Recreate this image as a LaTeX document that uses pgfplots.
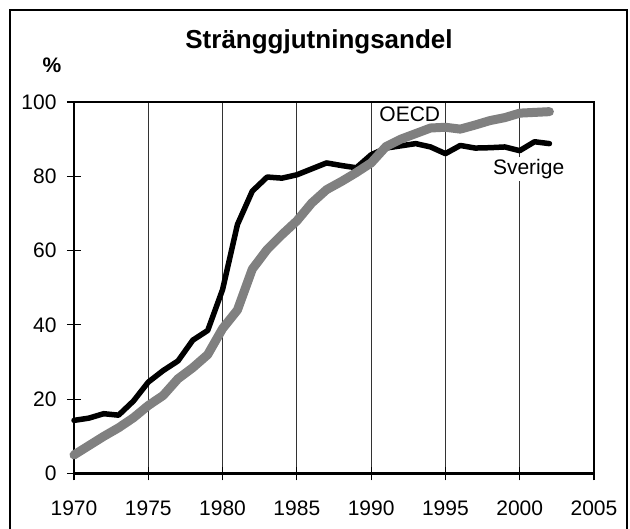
\documentclass[border=0pt]{standalone}
\usepackage{fontspec}
\setmainfont{Liberation Sans}
\usepackage{pgfplots}
\pgfplotsset{compat=1.18}
\begin{document}
\begin{tikzpicture}
\useasboundingbox (0pt,0pt) rectangle (630pt,-529pt);
\draw[line width=2.5pt] (10pt,-545pt) -- (10pt,-10pt) -- (627pt,-10pt) -- (627pt,-545pt);
\node[font=\fontsize{26}{30}\selectfont\bfseries] at (319pt,-42pt) {Stränggjutningsandel};
\node[font=\fontsize{21}{24}\selectfont\bfseries] at (52pt,-65pt) {\%};
\begin{axis}[
  at={(74pt,-473.5pt)}, anchor=south west,
  scale only axis, width=520pt, height=371.5pt,
  xmin=1970, xmax=2005, ymin=0, ymax=100,
  xtick={1970,1975,...,2005}, ytick={0,20,...,100},
  xtick pos=bottom, ytick pos=left,
  /pgf/number format/assume math mode=true,
  xticklabel style={/pgf/number format/1000 sep={}},
  tick label style={font=\fontsize{21}{24}\selectfont},
  tick align=center,
  major tick length=14pt,
  tick style={line width=1.2pt, black},
  axis line style={line width=2.5pt},
  xmajorgrids, major grid style={line width=0.9pt, black!80},
  xticklabel style={yshift=-17pt},
  yticklabel style={xshift=-7pt},
  clip=false,
]
\addplot[black, line width=5.5pt, line join=round, line cap=round] coordinates {
(1970,14.3) (1971,14.9) (1972,16.1) (1973,15.7) (1974,19.5) (1975,24.6)
(1976,27.7) (1977,30.3) (1978,35.9) (1979,38.5) (1980,49.5) (1981,67)
(1982,76) (1983,79.8) (1984,79.5) (1985,80.4) (1986,82) (1987,83.6)
(1988,82.9) (1989,82.3) (1990,85.8) (1991,87.6) (1992,88.2) (1993,88.8)
(1994,87.9) (1995,86.1) (1996,88.3) (1997,87.6) (1998,87.7) (1999,87.9)
(2000,86.9) (2001,89.3) (2002,88.8)};
\addplot[gray, line width=9pt, line join=round, line cap=round] coordinates {
(1970,5) (1971,7.5) (1972,10) (1973,12.3) (1974,15) (1975,18.3)
(1976,21) (1977,25.5) (1978,28.5) (1979,32) (1980,39) (1981,44)
(1982,55) (1983,60.3) (1984,64.3) (1985,68) (1986,72.8) (1987,76.4)
(1988,78.6) (1989,81) (1990,83.6) (1991,88) (1992,90) (1993,91.5)
(1994,93) (1995,93.2) (1996,92.7) (1997,93.8) (1998,95) (1999,95.8)
(2000,97) (2001,97.2) (2002,97.4)};
\node[font=\fontsize{21}{25}\selectfont, inner sep=2pt] at (axis cs:1992.6,96.6) {OECD};
\node[font=\fontsize{21}{25}\selectfont, fill=white, inner sep=2pt] at (axis cs:2000.6,82.0) {Sverige};
\end{axis}
\end{tikzpicture}
\end{document}
